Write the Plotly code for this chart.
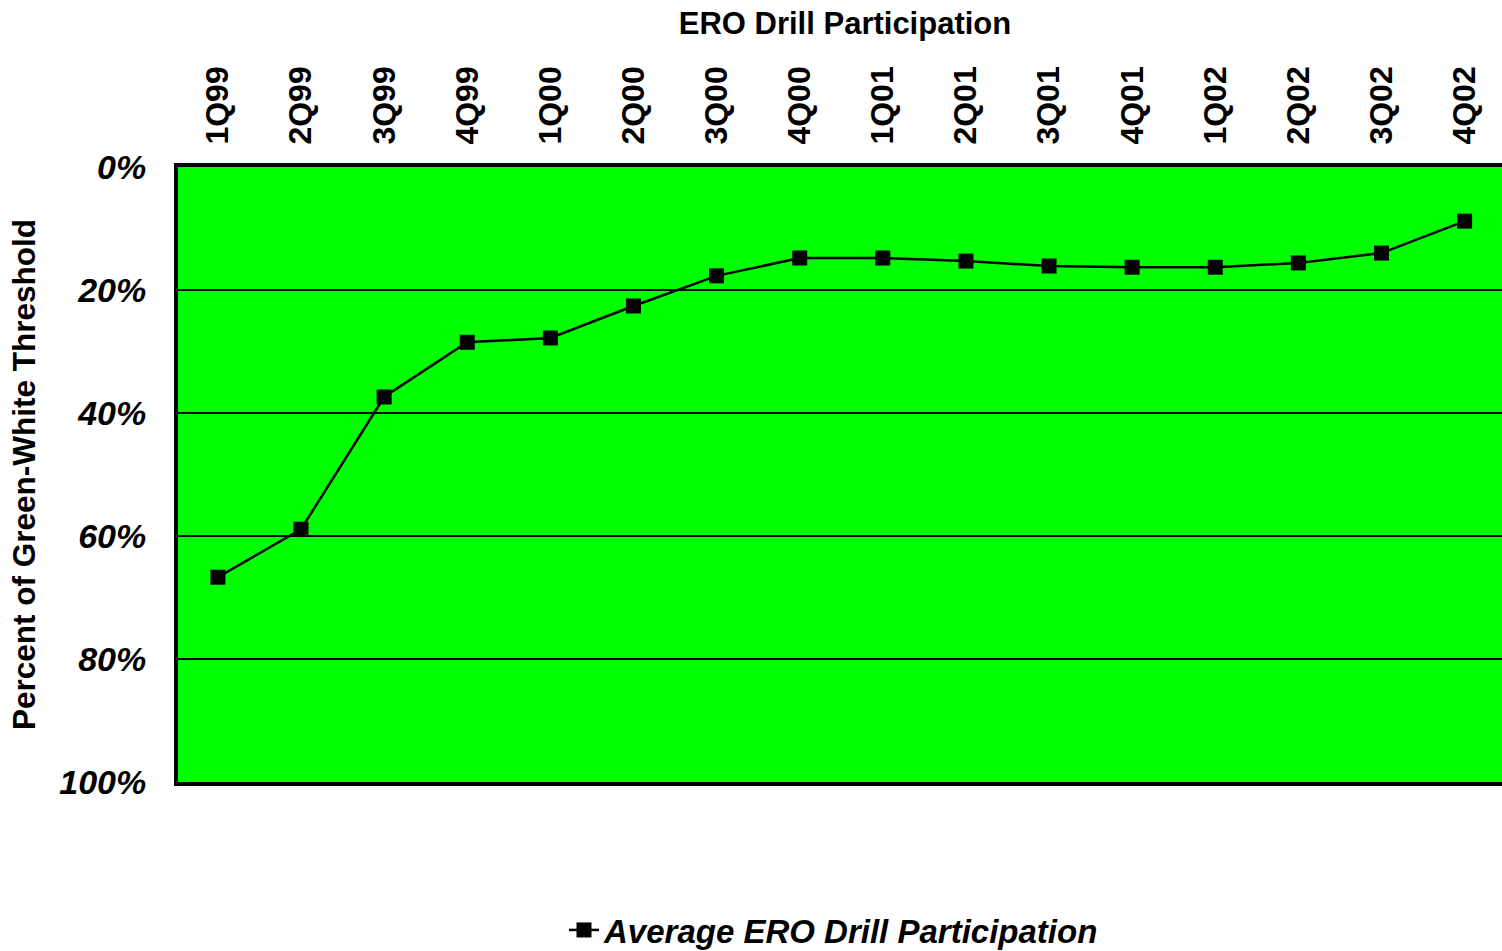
import plotly.graph_objects as go

categories = ["1Q99", "2Q99", "3Q99", "4Q99", "1Q00", "2Q00", "3Q00", "4Q00",
              "1Q01", "2Q01", "3Q01", "4Q01", "1Q02", "2Q02", "3Q02", "4Q02"]
participation = [66.7, 58.9, 37.4, 28.5, 27.8, 22.6, 17.7, 14.8,
                 14.8, 15.3, 16.1, 16.3, 16.3, 15.6, 14.0, 8.8]
ytick_vals = [0, 20, 40, 60, 80, 100]
ytick_text = ["0%", "20%", "40%", "60%", "80%", "100%"]

FONT = "Liberation Sans, Arial, sans-serif"

fig = go.Figure()
fig.add_trace(go.Scatter(
    x=categories, y=participation, mode="lines+markers",
    name="<b><i>Average ERO Drill Participation</i></b>",
    line=dict(color="black", width=2.5),
    marker=dict(symbol="square", size=15, color="black"),
))

fig.update_layout(
    width=1502, height=951,
    margin=dict(l=178, r=0, t=167, b=169, autoexpand=False),
    paper_bgcolor="white", plot_bgcolor="#00FF00",
    font=dict(family=FONT, color="black"),
    title=dict(text="<b>ERO Drill Participation</b>", x=845 / 1502, xanchor="center",
               xref="container", yref="container",
               y=1 - 23 / 951, yanchor="middle", font=dict(size=31, family=FONT)),
    showlegend=True,
    legend=dict(orientation="h", x=(834 - 178) / 1324, xanchor="center",
                y=(782 - 930) / 615, yanchor="middle",
                font=dict(size=33, family=FONT), bgcolor="rgba(0,0,0,0)"),
)

fig.update_xaxes(
    type="category", side="top", range=[-0.48, 15.45],
    tickangle=-90, tickfont=dict(size=32, family=FONT),
    tickvals=categories, ticktext=[f"<b>{c}</b>" for c in categories],
    showgrid=False, ticks="", ticklabelstandoff=12,
    showline=True, linecolor="black", linewidth=4, mirror=True, zeroline=False,
)
fig.update_yaxes(
    range=[100, 0], tickvals=ytick_vals,
    ticktext=[f"<b><i>{t}</i></b>" for t in ytick_text],
    tickfont=dict(size=34, family=FONT),
    showgrid=True, gridcolor="black", gridwidth=1.5,
    ticks="", ticklabelstandoff=21,
    showline=True, linecolor="black", linewidth=4, zeroline=False,
    title=dict(text="<b>Percent of Green-White Threshold</b>", font=dict(size=31.5, family=FONT),
               standoff=15),
)

fig.write_html("out.html", config={"displayModeBar": False},
               post_script="document.body.style.margin='0';document.body.style.overflow='hidden';")
